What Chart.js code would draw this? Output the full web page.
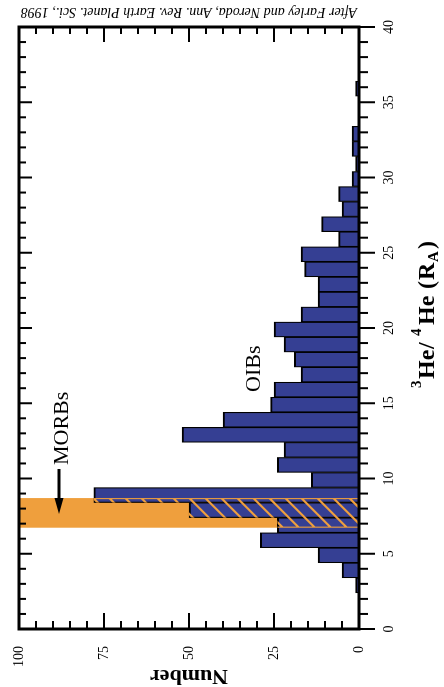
<!DOCTYPE html>
<html><head><meta charset="utf-8">
<script src="https://cdn.jsdelivr.net/npm/chart.js@4"></script>
<style>
html,body{margin:0;padding:0;background:#fff;overflow:hidden;width:444px;height:687px;}
#wrap{position:absolute;left:0;top:0;width:687px;height:444px;transform-origin:0 0;transform:translate(0,687px) rotate(-90deg);}
canvas{display:block;}
</style></head><body>
<div id="wrap"><canvas id="c" width="687" height="444"></canvas></div>
<script>
// ---- data ----
const heBinCenters = [2.9, 3.9, 4.9, 5.9, 6.9, 7.9, 8.9, 9.9, 10.9, 11.9, 12.9, 13.9, 14.9, 15.9, 16.9, 17.9, 18.9, 19.9, 20.9, 21.9, 22.9, 23.9, 24.9, 25.9, 26.9, 27.9, 28.9, 29.9, 30.9, 31.9, 32.9, 33.9, 34.9, 35.9];
const sampleCounts = [1, 5, 12, 29, 24, 50, 78, 14, 24, 22, 52, 40, 26, 25, 17, 19, 22, 25, 17, 12, 12, 16, 17, 6, 11, 5, 6, 2, 1, 2, 2, 0, 0, 1];
const morbRange = [6.73, 8.70];
const heAxisRange = [0, 40];
const numberAxisRange = [0, 100];
const heLabelStep = 5;
const numberLabelStep = 25;
const citation = "After Farley and Neroda, Ann. Rev. Earth Planet. Sci., 1998";
const morbLabel = "MORBs";
const oibLabel = "OIBs";
const numberTitle = "Number";

const BLUE = '#353f93';
const ORANGE = '#ef9f3d';
const SERIF = "'Liberation Serif', 'Times New Roman', serif";

const annot = {
  id: 'annot',
  beforeDatasetsDraw(chart) {
    const {ctx, chartArea: a, scales: {x}} = chart;
    const x0 = x.getPixelForValue(morbRange[0]), x1 = x.getPixelForValue(morbRange[1]);
    ctx.save();
    ctx.fillStyle = ORANGE;
    ctx.fillRect(x0, a.top, x1 - x0, a.bottom - a.top);
    ctx.restore();
  },
  afterDatasetsDraw(chart) {
    const {ctx, chartArea: a, scales: {x}} = chart;
    const x0 = x.getPixelForValue(morbRange[0]), x1 = x.getPixelForValue(morbRange[1]);
    const meta = chart.getDatasetMeta(0);
    ctx.save();
    ctx.beginPath();
    meta.data.forEach(b => {
      const p = b.getProps(['x', 'y', 'base', 'width'], true);
      const l = Math.max(p.x - p.width / 2, x0), r = Math.min(p.x + p.width / 2, x1);
      const t = Math.min(p.y, p.base), bt = Math.max(p.y, p.base);
      if (r > l && bt - t > 0.5) ctx.rect(l, t, r - l, bt - t);
    });
    ctx.clip();
    ctx.strokeStyle = ORANGE;
    ctx.lineWidth = 2.2;
    ctx.beginPath();
    for (let c = x0 + a.top - 40; c < x1 + a.bottom + 40; c += 16) {
      ctx.moveTo(c - a.top, a.top);
      ctx.lineTo(c - a.bottom, a.bottom);
    }
    ctx.moveTo(x0, a.top); ctx.lineTo(x0, a.bottom);
    ctx.moveTo(x1, a.top); ctx.lineTo(x1, a.bottom);
    ctx.stroke();
    ctx.restore();
  },
  afterDraw(chart) {
    const {ctx, chartArea: a, scales: {x, y}} = chart;
    ctx.save();
    ctx.strokeStyle = '#000';
    ctx.lineWidth = 2;
    ctx.beginPath();
    for (let v = heAxisRange[0]; v <= heAxisRange[1]; v++) {
      const px = x.getPixelForValue(v);
      const major = v % heLabelStep === 0;
      ctx.moveTo(px, a.bottom); ctx.lineTo(px, a.bottom + (major ? 16 : 9));
      ctx.moveTo(px, a.top); ctx.lineTo(px, a.top + (major ? 13 : 7));
    }
    for (let v = numberAxisRange[0]; v <= numberAxisRange[1]; v += 5) {
      const py = y.getPixelForValue(v);
      const major = v % numberLabelStep === 0;
      ctx.moveTo(a.left, py); ctx.lineTo(a.left + (major ? 16 : 8), py);
      ctx.moveTo(a.right, py); ctx.lineTo(a.right - (major ? 15 : 7), py);
    }
    ctx.stroke();
    ctx.lineWidth = 3;
    ctx.strokeRect(a.left, a.top, a.right - a.left, a.bottom - a.top);

    ctx.fillStyle = '#000';
    // x-axis title with super/subscripts
    const big = 'bold 24px ' + SERIF, small = 'bold 15px ' + SERIF;
    const pieces = [
      ['3', small, 293, -13], ['He', big, 302, 0], ['/', big, 332, 0],
      ['4', small, 345, -13], ['He', big, 356, 0], ['(', big, 392, 0],
      ['R', big, 401, 0], ['A', small, 419, 4], [')', big, 432, 0]
    ];
    const shift = 6;
    ctx.textAlign = 'left';
    ctx.textBaseline = 'alphabetic';
    pieces.forEach(([t, f, px, dy]) => { ctx.font = f; ctx.fillText(t, px + shift, 434 + dy); });

    // y-axis title
    ctx.save();
    ctx.translate(17, (a.top + a.bottom) / 2);
    ctx.rotate(-Math.PI / 2);
    ctx.font = 'bold 22px ' + SERIF; ctx.textAlign = 'center';
    ctx.fillText(numberTitle, 0, 0);
    ctx.restore();

    // citation
    ctx.save();
    ctx.translate(679, 357);
    ctx.rotate(-Math.PI / 2);
    ctx.font = 'italic 14px ' + SERIF; ctx.textAlign = 'left';
    ctx.fillText(citation, 0, 0);
    ctx.restore();

    // labels
    ctx.font = '22px ' + SERIF;
    ctx.textAlign = 'left';
    ctx.fillText(oibLabel, 295, 260);
    ctx.fillText(morbLabel, 222, 68);

    // arrow
    ctx.lineWidth = 3;
    ctx.beginPath(); ctx.moveTo(218, 59); ctx.lineTo(186, 59); ctx.stroke();
    ctx.beginPath(); ctx.moveTo(173, 59); ctx.lineTo(189, 54.5); ctx.lineTo(189, 63.5); ctx.closePath(); ctx.fill();
    ctx.restore();
  }
};

new Chart(document.getElementById('c'), {
  type: 'bar',
  data: {
    datasets: [{
      data: heBinCenters.map((h, i) => ({x: h, y: sampleCounts[i]})),
      backgroundColor: BLUE,
      borderColor: '#000',
      borderWidth: {top: 2, left: 1.2, right: 1.2, bottom: 0},
      borderSkipped: false,
      barPercentage: 1,
      categoryPercentage: 1
    }]
  },
  options: {
    responsive: false,
    animation: false,
    events: [],
    layout: {padding: {top: 19, right: 27, left: 0, bottom: 0}},
    plugins: {legend: {display: false}, tooltip: {enabled: false}},
    scales: {
      x: {
        type: 'linear', min: heAxisRange[0], max: heAxisRange[1], offset: false,
        grid: {display: false, offset: false}, border: {display: false},
        ticks: {stepSize: heLabelStep, autoSkip: false, maxRotation: 0, padding: 14, color: '#000', font: {family: SERIF, size: 14}},
        afterFit(s) { s.height = 85; }
      },
      y: {
        type: 'linear', min: numberAxisRange[0], max: numberAxisRange[1],
        grid: {display: false}, border: {display: false},
        ticks: {stepSize: numberLabelStep, padding: 9, color: '#000', font: {family: SERIF, size: 14}},
        afterFit(s) { s.width = 58; }
      }
    }
  },
  plugins: [annot]
});
</script>
</body></html>
